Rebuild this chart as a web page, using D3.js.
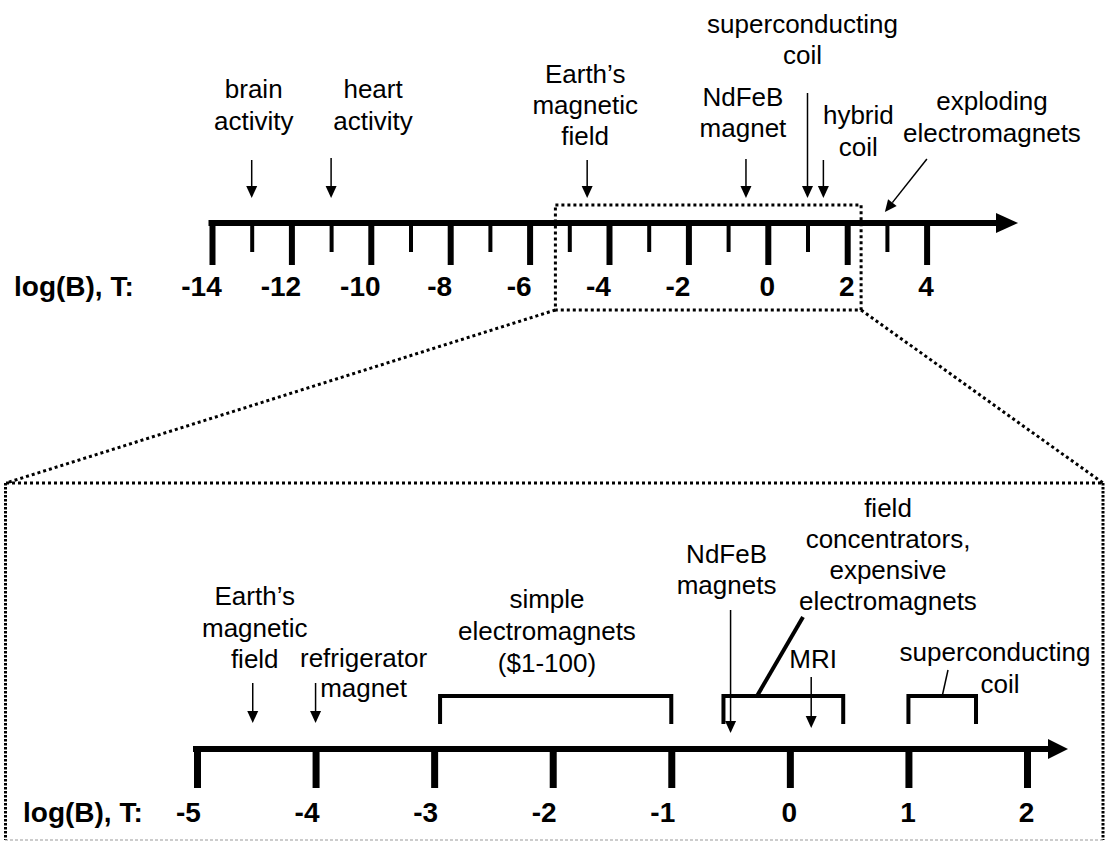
<!DOCTYPE html>
<html>
<head>
<meta charset="utf-8">
<script src="https://cdn.jsdelivr.net/npm/d3@7"></script>
<style>
  html, body { margin: 0; padding: 0; background: #fff; }
  svg { display: block; }
  text { font-family: "Liberation Sans", Arial, sans-serif; fill: #000; }
</style>
</head>
<body>
<svg id="chart" width="1106" height="841"></svg>
<script>
// ---- Overview scale: log10 of the field in tesla ----
const overviewMajorTicks = [-14, -12, -10, -8, -6, -4, -2, 0, 2, 4];
const overviewMinorTicks = [-13, -11, -9, -7, -5, -3, -1, 1, 3];
const overviewLabels = [
  ["brain", "activity"],
  ["heart", "activity"],
  ["Earth\u2019s", "magnetic", "field"],
  ["NdFeB", "magnet"],
  ["superconducting", "coil"],
  ["hybrid", "coil"]
];
const overviewValues = [-13, -11, -4.55, -0.55, 1.0, 1.4];
const explodingLabel = ["exploding", "electromagnets"];
const explodingValue = 3;

// Window of the overview that is enlarged below
const zoomWindow = [-5.35, 2.35];

// ---- Detail scale ----
const detailTicks = [-5, -4, -3, -2, -1, 0, 1, 2];
const detailPointLabels = [
  ["Earth\u2019s", "magnetic", "field"],
  ["refrigerator", "magnet"],
  ["NdFeB", "magnets"],
  ["MRI"]
];
const detailPointValues = [-4.53, -4.0, -0.5, 0.18];
const detailRangeLabels = [
  ["simple", "electromagnets", "($1-100)"],
  ["field", "concentrators,", "expensive", "electromagnets"],
  ["superconducting", "coil"]
];
const detailRangeLow = [-2.95, -0.56, 1.0];
const detailRangeHigh = [-1.0, 0.45, 1.57];

const axisTitle = "log(B), T:";

// ---- Layout ----
const topAxisY = 223, detAxisY = 749;
const labelSize = 26;
const svg = d3.select("#chart");

const xTop = d3.scaleLinear().domain([-14, 4]).range([212, 926.6]);
const xDet = d3.scaleLinear().domain([-5, 2]).range([197, 1027]);

// label placement: horizontal shift from the arrow, first baseline, arrow top
const overviewLayout = [
  { dx: 2,   y: 98,  lh: 32, top: 160 },
  { dx: 42,  y: 98,  lh: 32, top: 158 },
  { dx: -2,  y: 83,  lh: 31, top: 160 },
  { dx: -3,  y: 106, lh: 31, top: 159 },
  { dx: -5,  y: 33,  lh: 31, top: 93 },
  { dx: 35,  y: 124, lh: 32, top: 160 }
];
const detailPointLayout = [
  { dx: 2,  y: 605, lh: 31.5, top: 683, bottom: 723 },
  { dx: 48, y: 667, lh: 30,   top: 683, bottom: 723 },
  { dx: -4, y: 563, lh: 31,   top: 610, bottom: 733 },
  { dx: 2,  y: 668, lh: 31,   top: 677, bottom: 728 }
];
const detailRangeLayout = [
  { cx: 547, y: 608, lh: 32,   leader: null },
  { cx: 888, y: 517, lh: 31,   leader: { from: 0.28, x2: 803, y2: 617, w: 4 } },
  { cx: 995, y: 661, lh: 32,   leader: { from: 0.5,  x2: 948, y2: 670, w: 1.5 }, shift: [0, 5] }
];

function arrow(g, x1, y1, x2, y2, opt = {}) {
  const L = opt.len || 12, hw = opt.hw || 5.5, sw = opt.sw || 1.5;
  const a = Math.atan2(y2 - y1, x2 - x1);
  const bx = x2 - L * Math.cos(a), by = y2 - L * Math.sin(a);
  const px = -Math.sin(a) * hw, py = Math.cos(a) * hw;
  g.append("line").attr("x1", x1).attr("y1", y1).attr("x2", bx).attr("y2", by)
    .attr("stroke", "#000").attr("stroke-width", sw);
  g.append("path")
    .attr("d", `M${x2},${y2}L${bx + px},${by + py}L${bx - px},${by - py}Z`)
    .attr("fill", "#000");
}

function multiline(g, lines, cx, y, lh, size, weight, shifts) {
  const t = g.append("text").attr("text-anchor", "middle")
    .attr("font-size", size).attr("font-weight", weight || "normal");
  lines.forEach((s, i) => {
    t.append("tspan").attr("x", cx + (shifts ? shifts[i] || 0 : 0))
      .attr("y", y + i * lh).text(s);
  });
  return t;
}

// ---- Dotted zoom window and its projection ----
const dots = svg.append("g").attr("fill", "none").attr("stroke", "#000");
const zx0 = xTop(zoomWindow[0]), zx1 = xTop(zoomWindow[1]);
dots.append("rect").attr("x", zx0).attr("y", 205).attr("width", zx1 - zx0).attr("height", 105)
  .attr("stroke-width", 3).attr("stroke-dasharray", "3,3");
dots.append("line").attr("x1", zx0).attr("y1", 310).attr("x2", 6).attr("y2", 483)
  .attr("stroke-width", 3).attr("stroke-dasharray", "3,3");
dots.append("line").attr("x1", zx1).attr("y1", 310).attr("x2", 1103).attr("y2", 483)
  .attr("stroke-width", 3).attr("stroke-dasharray", "3,3");
dots.append("line").attr("x1", 6).attr("y1", 483).attr("x2", 1103).attr("y2", 483)
  .attr("stroke-width", 3).attr("stroke-dasharray", "3,3");
dots.append("line").attr("x1", 5.5).attr("y1", 483).attr("x2", 5.5).attr("y2", 840)
  .attr("stroke-width", 3).attr("stroke-dasharray", "2.5,1.5");
dots.append("line").attr("x1", 1103).attr("y1", 483).attr("x2", 1103).attr("y2", 840)
  .attr("stroke-width", 3).attr("stroke-dasharray", "2.5,1.5");
dots.append("line").attr("x1", 5).attr("y1", 840).attr("x2", 1103).attr("y2", 840)
  .attr("stroke", "#999").attr("stroke-width", 1.2).attr("stroke-dasharray", "3,2");

// ---- Overview axis ----
const gTop = svg.append("g");
gTop.append("line").attr("x1", xTop(-14) - 3.5).attr("x2", 998)
  .attr("y1", topAxisY).attr("y2", topAxisY).attr("stroke", "#000").attr("stroke-width", 6);
gTop.append("path").attr("d", `M1018,${topAxisY}L996,${topAxisY - 10}L996,${topAxisY + 10}Z`).attr("fill", "#000");

const topMajor = gTop.append("g").attr("transform", `translate(0,${topAxisY})`)
  .call(d3.axisBottom(xTop).tickValues(overviewMajorTicks).tickSize(42).tickFormat(d => d));
const topMinor = gTop.append("g").attr("transform", `translate(0,${topAxisY})`)
  .call(d3.axisBottom(xTop).tickValues(overviewMinorTicks).tickSize(29).tickFormat(""));
[topMajor, topMinor].forEach(g => g.select(".domain").remove());
topMajor.selectAll(".tick line").attr("stroke", "#000").attr("stroke-width", 6);
topMinor.selectAll(".tick line").attr("stroke", "#000").attr("stroke-width", 4);
topMajor.selectAll(".tick text")
  .attr("y", 73).attr("dy", null).attr("dx", d => d < 0 ? -11 : -1)
  .attr("fill", "#000").attr("font-size", 28).attr("font-weight", "bold")
  .attr("font-family", "Liberation Sans, Arial, sans-serif");
gTop.append("text").attr("x", 14).attr("y", 296).attr("font-size", 28)
  .attr("font-weight", "bold").text(axisTitle);

// overview annotations
overviewValues.forEach((v, i) => {
  const L = overviewLayout[i], x = xTop(v);
  arrow(gTop, x, L.top, x, 198);
  multiline(gTop, overviewLabels[i], x + L.dx, L.y, L.lh, labelSize);
});
{
  const xe = xTop(explodingValue);
  arrow(gTop, xe + 40, 159, xe - 2, 212);
  multiline(gTop, explodingLabel, 992, 110, 32, labelSize);
}

// ---- Detail axis ----
const gDet = svg.append("g");
gDet.append("line").attr("x1", xDet(-5) - 4).attr("x2", 1050)
  .attr("y1", detAxisY).attr("y2", detAxisY).attr("stroke", "#000").attr("stroke-width", 6);
gDet.append("path").attr("d", `M1068,${detAxisY}L1048,${detAxisY - 10}L1048,${detAxisY + 10}Z`).attr("fill", "#000");
const detAxis = gDet.append("g").attr("transform", `translate(0,${detAxisY})`)
  .call(d3.axisBottom(xDet).tickValues(detailTicks).tickSize(39).tickFormat(d => d));
detAxis.select(".domain").remove();
detAxis.selectAll(".tick line").attr("stroke", "#000").attr("stroke-width", 7);
detAxis.selectAll(".tick text")
  .attr("y", 73).attr("dy", null).attr("dx", d => d < 0 ? -9 : -1)
  .attr("fill", "#000").attr("font-size", 28).attr("font-weight", "bold")
  .attr("font-family", "Liberation Sans, Arial, sans-serif");
gDet.append("text").attr("x", 23).attr("y", 822).attr("font-size", 28)
  .attr("font-weight", "bold").text(axisTitle);

// point sources
detailPointValues.forEach((v, i) => {
  const L = detailPointLayout[i], x = xDet(v);
  arrow(gDet, x, L.top, x, L.bottom);
  multiline(gDet, detailPointLabels[i], x + L.dx, L.y, L.lh, labelSize);
});

// ranges drawn as brackets
const bTop = 696, bLeg = 724;
detailRangeLow.forEach((lo, i) => {
  const hi = detailRangeHigh[i], x0 = xDet(lo), x1 = xDet(hi), L = detailRangeLayout[i];
  gDet.append("path")
    .attr("d", `M${x0},${bLeg}L${x0},${bTop}L${x1},${bTop}L${x1},${bLeg}`)
    .attr("fill", "none").attr("stroke", "#000").attr("stroke-width", 4)
    .attr("stroke-linejoin", "miter");
  if (L.leader) {
    const lx = x0 + (x1 - x0) * L.leader.from;
    gDet.append("line").attr("x1", lx).attr("y1", bTop).attr("x2", L.leader.x2).attr("y2", L.leader.y2)
      .attr("stroke", "#000").attr("stroke-width", L.leader.w);
  }
  multiline(gDet, detailRangeLabels[i], L.cx, L.y, L.lh, labelSize, "normal", L.shift);
});
</script>
</body>
</html>
